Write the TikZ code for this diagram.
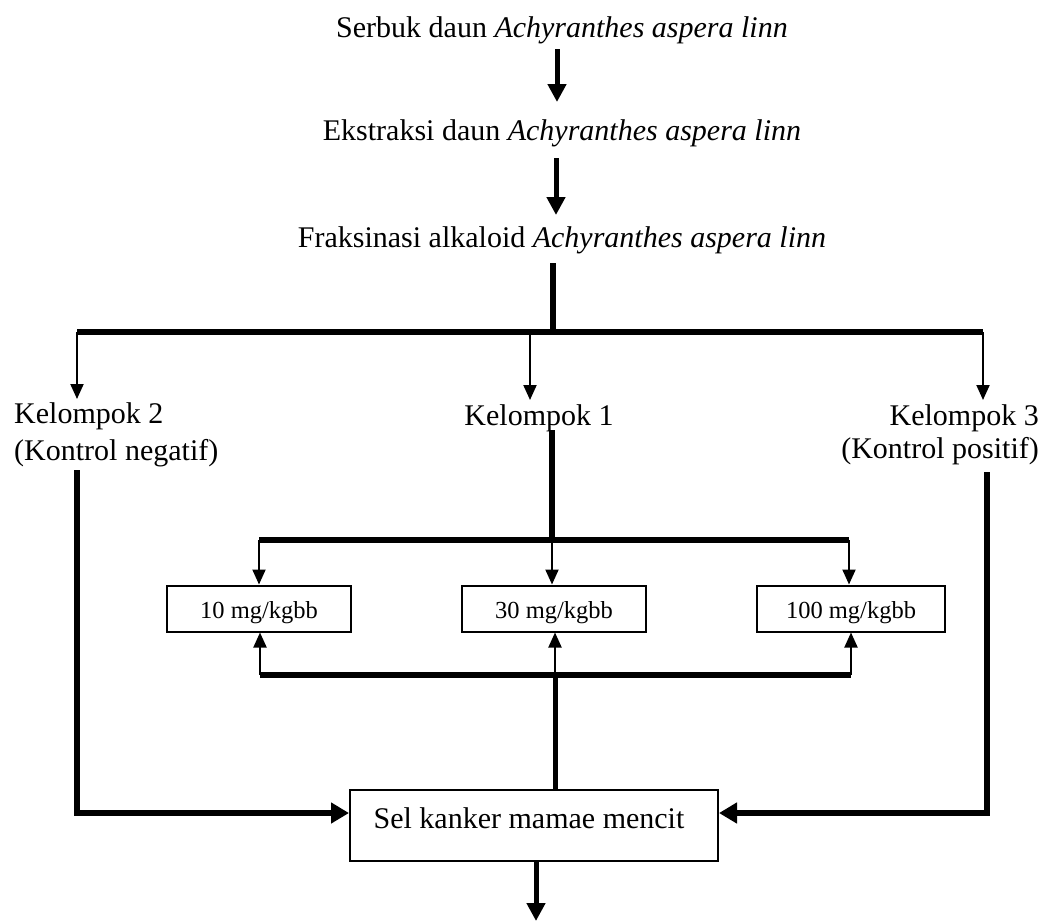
\documentclass[tikz,border=0pt]{standalone}
\usepackage{fontspec}
\setmainfont{Liberation Serif}
\usetikzlibrary{arrows.meta}
\begin{document}
\begin{tikzpicture}[x=1pt,y=-1pt,
  thickline/.style={line width=6pt},
  thinarrow/.style={line width=2pt,-{Triangle[length=15pt,width=13pt]}},
  bigarrow/.style={line width=5pt,-{Triangle[length=18pt,width=18pt]}},
  sidearrow/.style={line width=6pt,-{Triangle[length=18pt,width=20pt]}},
  lbl/.style={inner sep=0pt,font=\fontsize{30}{35}\selectfont},
  dose/.style={draw,line width=2pt,minimum width=184pt,minimum height=46pt,inner sep=0pt,
    text height=20pt,text depth=1pt,font=\fontsize{24.5}{28}\selectfont},
  ]
\useasboundingbox (0,0) rectangle (1041,922);
% top chain
\node[lbl,anchor=base] (s1) at (562,37) {Serbuk daun \textit{Achyranthes aspera linn}};
\node[lbl,anchor=base] (s2) at (562,140) {Ekstraksi daun \textit{Achyranthes aspera linn}};
\node[lbl,anchor=base] (s3) at (562,247) {Fraksinasi alkaloid \textit{Achyranthes aspera linn}};
\coordinate (a1) at (557,49);
\coordinate (a1e) at (557,102);
\coordinate (a2) at (556,158);
\coordinate (a2e) at (556,215);
\draw[bigarrow] (a1) -- (a1e);
\draw[bigarrow] (a2) -- (a2e);
% split
\coordinate (sp) at (553,263);
\coordinate (spe) at (553,332);
\coordinate (barL) at (77,332);
\coordinate (barM) at (530,332);
\coordinate (barR) at (983,332);
\draw[thickline] (sp) -- (spe);
\draw[thickline] (barL) -- (barR);
% groups
\node[lbl,anchor=base west] (k2) at (14,423) {Kelompok 2};
\node[lbl,anchor=base west] (k2b) at (14,460) {(Kontrol negatif)};
\node[lbl,anchor=base] (k1) at (539,425) {Kelompok 1};
\node[lbl,anchor=base east] (k3) at (1039,425) {Kelompok 3};
\node[lbl,anchor=base east] (k3b) at (1039,458) {(Kontrol positif)};
\coordinate (t2) at (77,399);
\coordinate (t1) at (530,400);
\coordinate (t3) at (983,400);
\draw[thinarrow] (barL) -- (t2);
\draw[thinarrow] (barM) -- (t1);
\draw[thinarrow] (barR) -- (t3);
% doses
\node[dose] (b10) at (259,608.5) {10 mg/kgbb};
\node[dose] (b30) at (554,608.5) {30 mg/kgbb};
\node[dose,minimum width=188pt] (b100) at (851,608.5) {100 mg/kgbb};
\coordinate (m1) at (552,430);
\coordinate (u1) at (259,540);
\coordinate (u2) at (552,540);
\coordinate (u3) at (849,540);
\draw[thickline] (m1) -- (u2);
\draw[thickline] (u1) -- (u3);
\draw[thinarrow] (u1) -- (u1 |- b10.north);
\draw[thinarrow] (u2) -- (u2 |- b30.north);
\draw[thinarrow] (u3) -- (u3 |- b100.north);
% bottom
\node[draw,line width=2pt,minimum width=368pt,minimum height=71pt,lbl,
  text height=20pt,text depth=15pt] (sel) at (534,825.5) {Sel kanker mamae mencit\hspace*{10pt}};
\coordinate (d1) at (260,675);
\coordinate (d2) at (555,675);
\coordinate (d3) at (851,675);
\draw[thickline] (d1) -- (d3);
\draw[thinarrow] (d1) -- (d1 |- b10.south);
\draw[thinarrow] (d2) -- (d2 |- b30.south);
\draw[thinarrow] (d3) -- (d3 |- b100.south);
\draw[line width=5pt] (d2 |- sel.north) -- (d2);
\coordinate (lv) at (77,470);
\coordinate (rv) at (987,472);
\coordinate (ex) at (536,921);
\draw[sidearrow] (lv) |- ([yshift=12.5pt]sel.west);
\draw[sidearrow] (rv) |- ([yshift=12.5pt]sel.east);
\draw[bigarrow] (ex |- sel.south) -- (ex);
\end{tikzpicture}
\end{document}
